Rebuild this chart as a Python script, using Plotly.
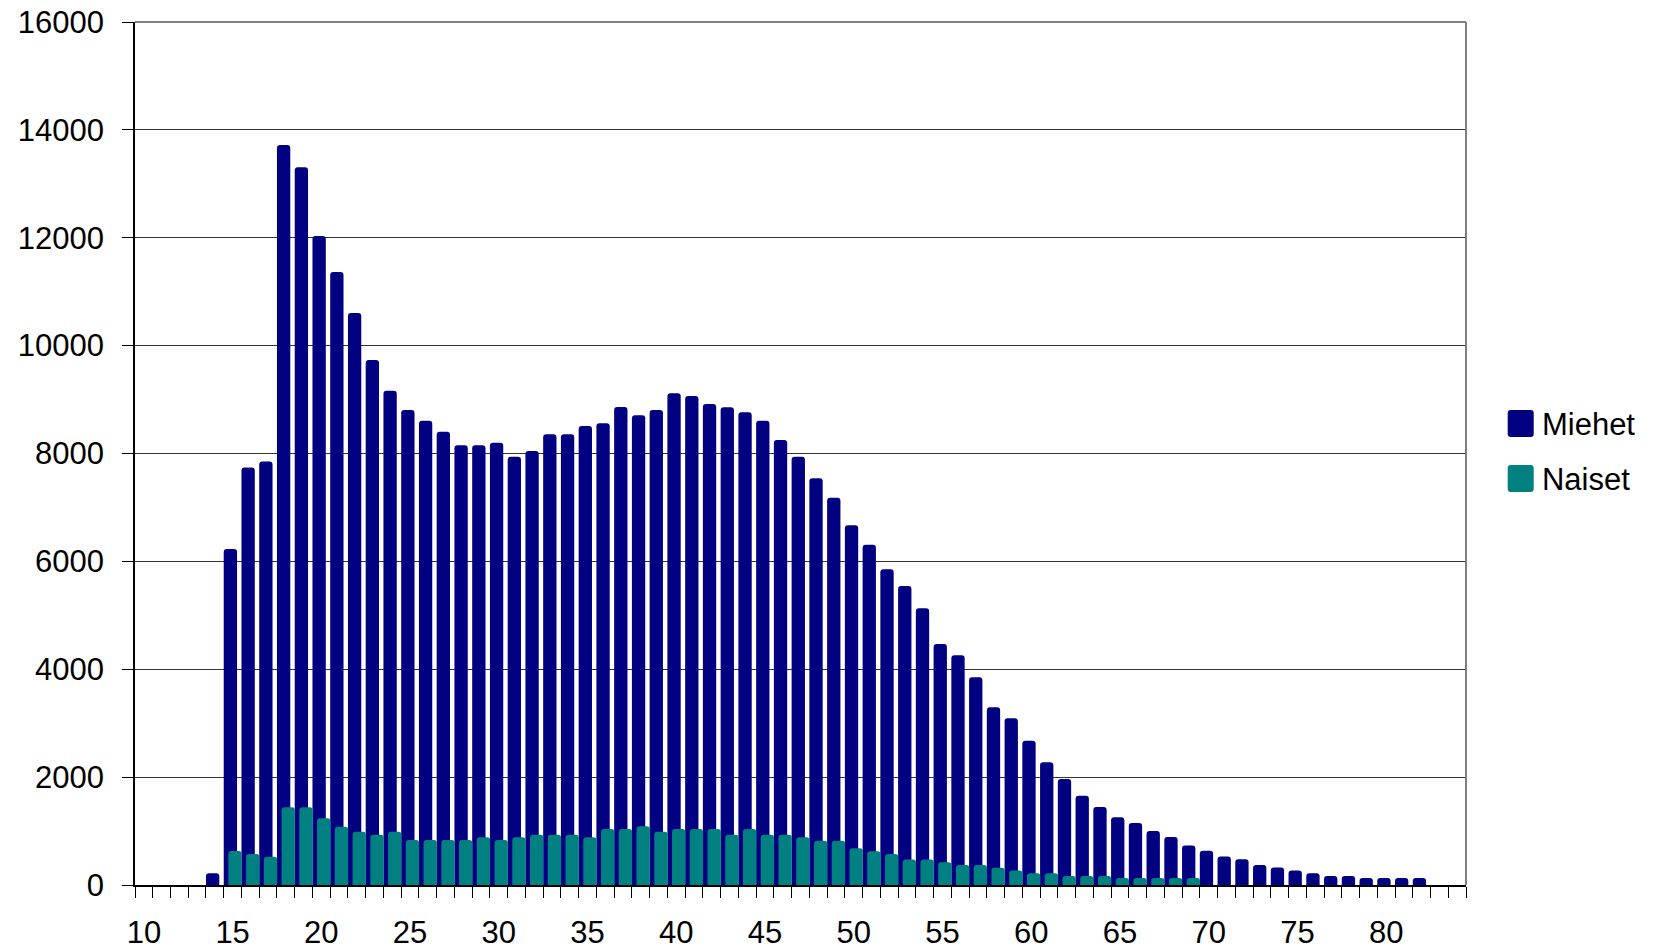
import plotly.graph_objects as go

ages = list(range(10, 85))

miehet = [0, 0, 0, 0, 216,
          6230, 7740, 7850, 13720, 13306, 12032, 11365, 10605, 9733, 9165,
          8807, 8609, 8405, 8152, 8152, 8201, 7941, 8046, 8356, 8356,
          8510, 8560, 8862, 8711, 8807, 9116, 9066, 8918, 8856, 8763,
          8608, 8250, 7941, 7540, 7181, 6669, 6309, 5853, 5543, 5130,
          4468, 4258, 3851, 3294, 3090, 2676, 2274, 1965, 1655, 1448,
          1255, 1150, 1000, 889, 733, 634, 528, 478, 373, 323,
          267, 217, 168, 168, 130, 130, 130, 130, 0, 0]

naiset = [0, 0, 0, 0, 0,
          630, 575, 525, 1440, 1440, 1236, 1081, 988, 933, 988,
          834, 834, 834, 834, 884, 834, 884, 933, 933, 933,
          884, 1038, 1038, 1088, 988, 1038, 1038, 1038, 933, 1038,
          933, 933, 884, 821, 821, 680, 625, 575, 472, 472,
          420, 371, 371, 321, 270, 216, 216, 167, 167, 167,
          130, 130, 130, 130, 130, 0, 0, 0, 0, 0,
          0, 0, 0, 0, 0, 0, 0, 0, 0, 0]

x_labels = list(range(10, 85, 5))
y_ticks = list(range(0, 16001, 2000))

NAVY = "#000080"
TEAL = "#008080"
FONT = "Liberation Sans, Arial, sans-serif"

fig = go.Figure()
fig.add_trace(go.Bar(
    x=ages, y=miehet, name="Miehet", legendgroup="m",
    width=0.75, offset=-0.5,
    marker=dict(color=NAVY, line=dict(width=0), cornerradius=3),
))
fig.add_trace(go.Bar(
    x=ages, y=naiset, name="Naiset", legendgroup="n",
    width=0.75, offset=-0.24,
    marker=dict(color=TEAL, line=dict(width=0), cornerradius=3),
))


def swatch(color, yp):
    # larger rounded legend key drawn under the legend's own (smaller) key
    return dict(type="path", xref="paper", yref="paper",
                xsizemode="pixel", ysizemode="pixel",
                xanchor=1.0411, yanchor=yp,
                path="M -10,-13.5 L 10,-13.5 Q 13,-13.5 13,-10.5 L 13,10.5 "
                     "Q 13,13.5 10,13.5 L -10,13.5 Q -13,13.5 -13,10.5 "
                     "L -13,-10.5 Q -13,-13.5 -10,-13.5 Z",
                fillcolor=color, line=dict(width=0), layer="above")


fig.update_layout(
    width=1660, height=951,
    barmode="overlay",
    paper_bgcolor="white", plot_bgcolor="white",
    margin=dict(l=135, r=194, t=22, b=66, autoexpand=False),
    font=dict(family=FONT, size=31, color="black"),
    showlegend=True,
    legend=dict(x=1.027, y=0.503, xanchor="left", yanchor="middle",
                font=dict(size=31), tracegroupgap=12,
                traceorder="grouped", bgcolor="rgba(0,0,0,0)"),
    xaxis=dict(
        range=[9.5, 84.5], tickmode="array", tickvals=x_labels,
        ticktext=[str(v) for v in x_labels],
        ticks="", showgrid=False, zeroline=False, automargin=False,
        showline=True, linecolor="black", linewidth=1.5,
        ticklabelstandoff=19,
        minor=dict(tickmode="linear", tick0=9.5, dtick=1, ticks="outside",
                   ticklen=11, tickcolor="black", tickwidth=1, showgrid=False),
    ),
    yaxis=dict(
        range=[0, 16000], tickmode="array", tickvals=y_ticks,
        ticktext=[str(v) for v in y_ticks],
        ticks="outside", ticklen=11, tickcolor="black", tickwidth=1,
        showgrid=True, gridcolor="#333333", gridwidth=1, automargin=False,
        zeroline=False, showline=True, linecolor="black", linewidth=1.5,
        ticklabelstandoff=12,
    ),
    shapes=[
        dict(type="line", xref="paper", yref="paper", x0=0, x1=1, y0=1, y1=1,
             line=dict(color="#808080", width=2)),
        dict(type="line", xref="paper", yref="paper", x0=1, x1=1, y0=0, y1=1,
             line=dict(color="#808080", width=2)),
        swatch(NAVY, 0.5348),
        swatch(TEAL, 0.4710),
    ],
)

fig.write_html(
    "out.html",
    config={"displayModeBar": False},
    post_script="document.body.style.margin='0';document.body.style.overflow='hidden';",
)
